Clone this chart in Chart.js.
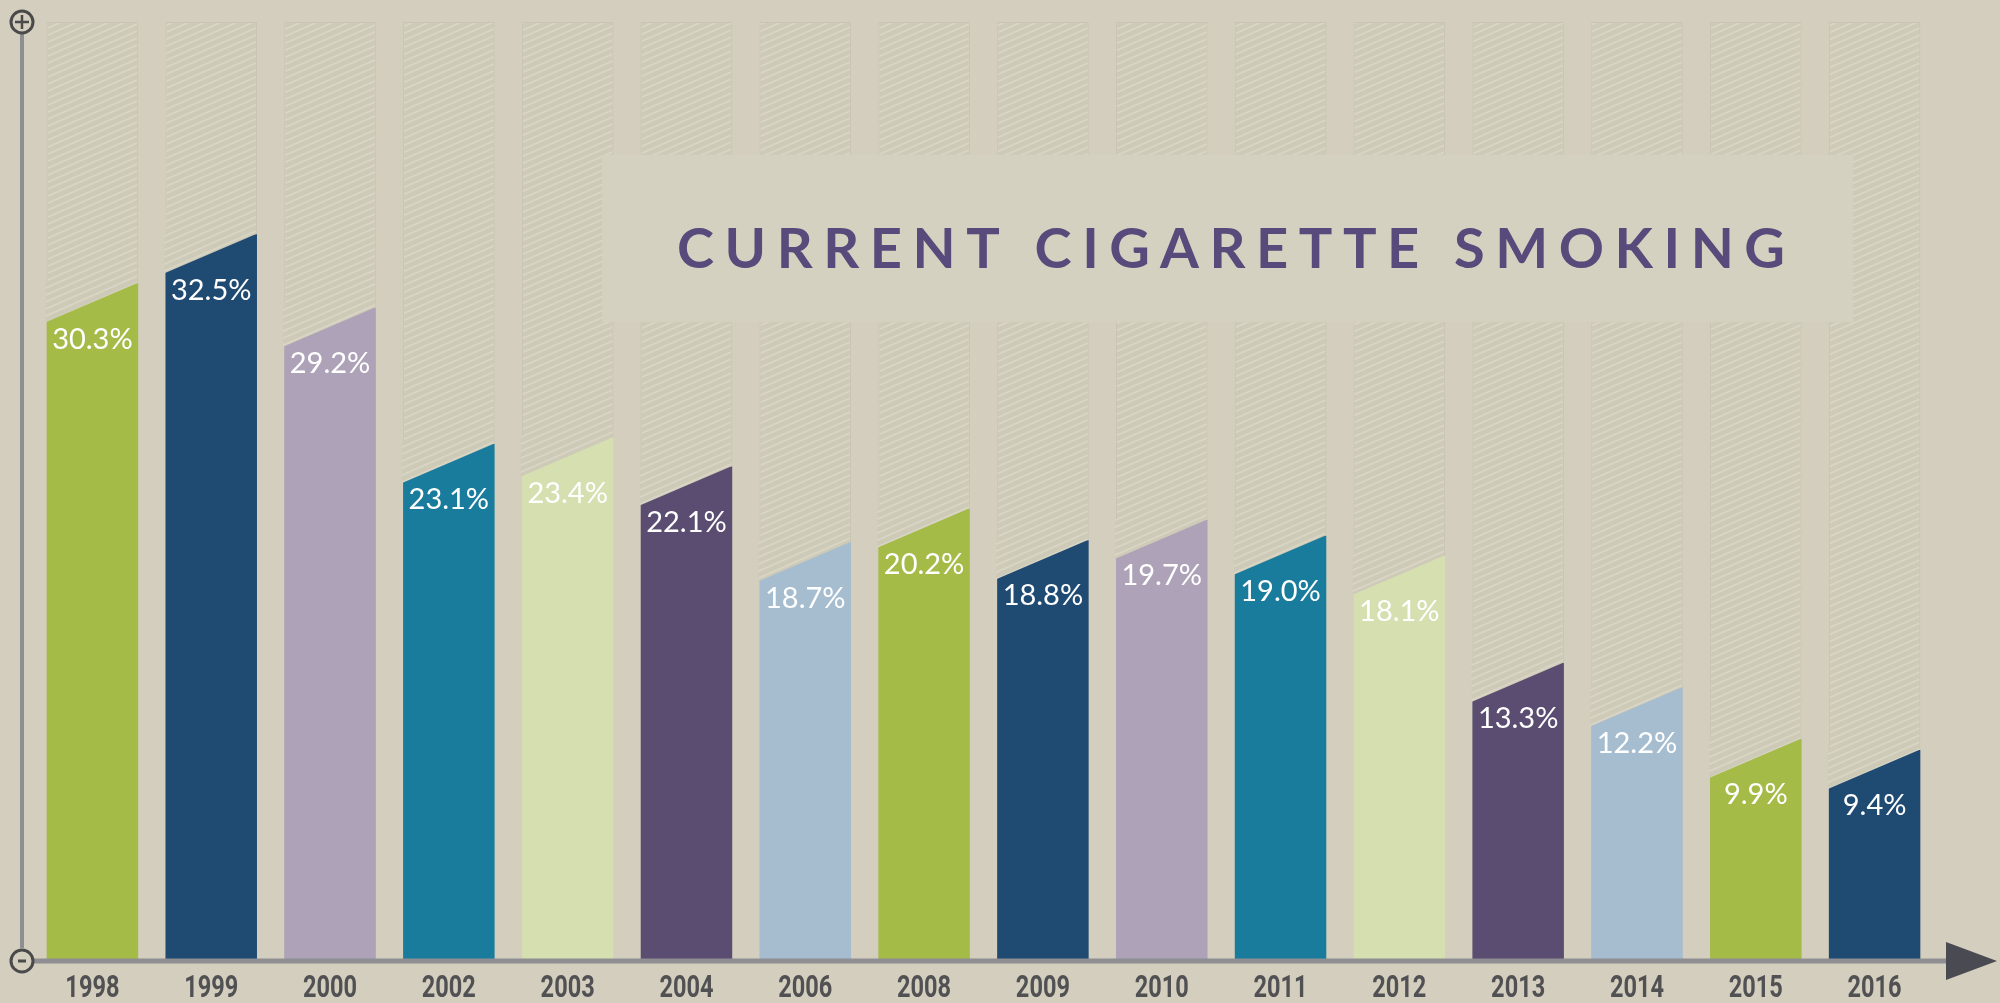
<!DOCTYPE html>
<html>
<head>
<meta charset="utf-8">
<script src="https://cdn.jsdelivr.net/npm/chart.js@4/dist/chart.umd.min.js"></script>
<style>
  html, body { margin: 0; padding: 0; background: #d3cebd; }
  #wrap { width: 2000px; height: 1003px; position: relative; }
</style>
</head>
<body>
<div id="wrap"><canvas id="barChart"></canvas></div>
<script>
const years = ['1998', '1999', '2000', '2002', '2003', '2004', '2006', '2008',
               '2009', '2010', '2011', '2012', '2013', '2014', '2015', '2016'];
const smokingRates = [30.3, 32.5, 29.2, 23.1, 23.4, 22.1, 18.7, 20.2,
                      18.8, 19.7, 19.0, 18.1, 13.3, 12.2, 9.9, 9.4];
const barColors = ['#a4bb48', '#1f4a72', '#ada2b7', '#1a7c9c', '#d5dfb0', '#5a4d71', '#a6bdd0', '#a4bb48',
                   '#1f4a72', '#ada2b7', '#1a7c9c', '#d5dfb0', '#5a4d71', '#a6bdd0', '#a4bb48', '#1f4a72'];
const yMax = 42;
const title = 'CURRENT CIGARETTE SMOKING';

// hatched background for the empty columns
function makeHatch() {
    const c = document.createElement('canvas');
    c.width = 16;
    c.height = 7;
    const g = c.getContext('2d');
    g.fillStyle = '#cecab8';
    g.fillRect(0, 0, 16, 7);
    g.strokeStyle = '#d9d5c5';
    g.lineWidth = 2;
    for (let k = -1; k <= 1; k++) {
        g.beginPath();
        g.moveTo(0, 7 + k * 7);
        g.lineTo(16, k * 7);
        g.stroke();
    }
    return g.createPattern(c, 'repeat');
}
const hatch = makeHatch();

const slant = 39;

const decorations = {
    id: 'decorations',
    afterDatasetsDraw(chart) {
        const ctx = chart.ctx;
        const meta = chart.getDatasetMeta(1);

        // slanted tops + value labels
        meta.data.forEach((bar, i) => {
            const left = bar.x - bar.width / 2;
            const right = bar.x + bar.width / 2;
            ctx.save();
            ctx.fillStyle = hatch;
            ctx.beginPath();
            ctx.moveTo(left - 1, bar.y - 1);
            ctx.lineTo(right + 1, bar.y - 1);
            ctx.lineTo(left - 1, bar.y + slant);
            ctx.closePath();
            ctx.fill();
            ctx.fillStyle = '#ffffff';
            ctx.font = '29px Lato, "Open Sans", sans-serif';
            ctx.textAlign = 'center';
            ctx.textBaseline = 'middle';
            ctx.fillText(smokingRates[i].toFixed(1) + '%', bar.x, bar.y + 56);
            ctx.restore();
        });

        // title box
        ctx.save();
        ctx.fillStyle = '#d5d1c0';
        ctx.fillRect(602, 155, 1251, 167);
        ctx.fillStyle = '#584a7a';
        ctx.font = 'bold 56px Lato, "Open Sans", sans-serif';
        ctx.textBaseline = 'alphabetic';
        ctx.textAlign = 'left';
        const plain = ctx.measureText(title).width;
        const spacing = (1108 - plain) / (title.length - 1);
        ctx.letterSpacing = spacing + 'px';
        ctx.fillText(title, 677, 268);
        ctx.restore();

        // year labels, condensed, at the library's tick positions
        const xs = chart.scales.x;
        ctx.save();
        ctx.fillStyle = '#515154';
        ctx.font = 'bold 31px Roboto, "DejaVu Sans", sans-serif';
        ctx.textAlign = 'center';
        ctx.textBaseline = 'middle';
        xs.ticks.forEach((t, i) => {
            const px = xs.getPixelForTick(i);
            ctx.save();
            ctx.translate(px, chart.chartArea.bottom + 29);
            ctx.scale(0.76, 1);
            ctx.fillText(xs.getLabelForValue(t.value), 0, 0);
            ctx.restore();
        });
        ctx.restore();

        // axes with +/- markers and arrow
        const ax = 22;
        const ay = chart.chartArea.bottom;
        ctx.save();
        ctx.strokeStyle = '#8e8e93';
        ctx.lineWidth = 4;
        ctx.beginPath();
        ctx.moveTo(ax, 34);
        ctx.lineTo(ax, ay - 12);
        ctx.stroke();
        ctx.lineWidth = 5;
        ctx.beginPath();
        ctx.moveTo(ax + 12, ay + 1);
        ctx.lineTo(1955, ay + 1);
        ctx.stroke();

        ctx.fillStyle = '#4a4b52';
        ctx.beginPath();
        ctx.moveTo(1946, ay - 18);
        ctx.lineTo(1997, ay + 1);
        ctx.lineTo(1946, ay + 20);
        ctx.closePath();
        ctx.fill();

        ctx.strokeStyle = '#4a4a4a';
        ctx.lineWidth = 3;
        ctx.beginPath();
        ctx.arc(ax, 22, 11, 0, Math.PI * 2);
        ctx.stroke();
        ctx.lineWidth = 2.5;
        ctx.beginPath();
        ctx.moveTo(ax - 7, 22);
        ctx.lineTo(ax + 7, 22);
        ctx.moveTo(ax, 15);
        ctx.lineTo(ax, 29);
        ctx.stroke();

        ctx.lineWidth = 3;
        ctx.fillStyle = '#d3cebd';
        ctx.beginPath();
        ctx.arc(ax, ay + 1, 11, 0, Math.PI * 2);
        ctx.fill();
        ctx.stroke();
        ctx.beginPath();
        ctx.moveTo(ax - 4, ay + 1);
        ctx.lineTo(ax + 4, ay + 1);
        ctx.stroke();
        ctx.restore();
    }
};

const barChartContext = document.getElementById('barChart').getContext('2d');

const barChart = new Chart(barChartContext, {
    type: 'bar',
    data: {
        labels: years,
        datasets: [{
            label: 'column',
            data: years.map(() => yMax),
            backgroundColor: hatch,
            borderColor: '#c8c5b3',
            borderWidth: 1,
            order: 2
        }, {
            label: 'Current cigarette smoking',
            data: smokingRates,
            backgroundColor: barColors,
            borderWidth: 0,
            order: 1
        }]
    },
    options: {
        responsive: true,
        maintainAspectRatio: false,
        animation: false,
        layout: {
            padding: { left: 33, right: 66, top: 22, bottom: 0 }
        },
        datasets: {
            bar: {
                grouped: false,
                barPercentage: 0.77,
                categoryPercentage: 1
            }
        },
        scales: {
            x: {
                grid: { display: false },
                border: { display: false },
                ticks: { display: false },
                afterFit: (scale) => { scale.height = 43; }
            },
            y: {
                display: false,
                min: 0,
                max: yMax
            }
        },
        plugins: {
            legend: { display: false },
            tooltip: { enabled: false }
        }
    },
    plugins: [decorations]
});
</script>
</body>
</html>
